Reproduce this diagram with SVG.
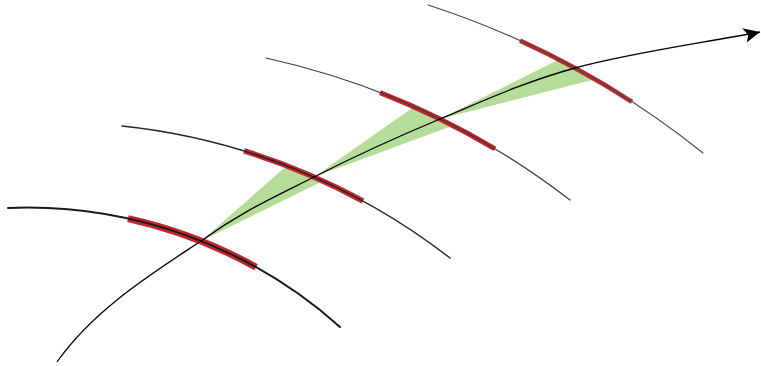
<svg xmlns="http://www.w3.org/2000/svg" width="761" height="366" viewBox="0 0 761 366">
<defs>
<style>
.wave{fill:none;stroke-linecap:round}
.red{fill:none;stroke:#c0262c;stroke-linecap:butt}
.cone{fill:#b6dc9a;stroke:none}
</style>
<marker id="arr" markerUnits="userSpaceOnUse" markerWidth="20" markerHeight="16" refX="17" refY="7" orient="auto" viewBox="0 0 20 16">
<path d="M0,0 L17,7 L2,15 L5,7.5 Z" fill="#000"/>
</marker>
</defs>
<rect width="761" height="366" fill="#fff"/>
<g id="cones">
<path class="cone" d="M201,241 L287,165.6 A645.2,645.2 0 0 1 323,181 Z"/>
<path class="cone" d="M314,177 L414,106.8 A768.6,768.6 0 0 1 453,125.6 Z"/>
<path class="cone" d="M440,119 L559,59.5 A865.9,865.9 0 0 1 595,79.2 Z"/>
</g>
<g id="highlights">
<path class="red" stroke-width="7" d="M128,218.6 A469.9,469.9 0 0 1 256,267.2"/>
<path class="red" stroke-width="5.5" d="M244,150.9 A645.2,645.2 0 0 1 363,201"/>
<path class="red" stroke-width="5" d="M380,92.6 A768.6,768.6 0 0 1 495,148.9"/>
<path class="red" stroke-width="4.5" d="M520,40.6 A865.9,865.9 0 0 1 632,101.8"/>
</g>
<g id="wavefronts">
<path id="wave1" class="wave" stroke="#1a1a1a" stroke-width="2" d="M8,208 A469.9,469.9 0 0 1 340,327"/>
<path id="wave2" class="wave" stroke="#262626" stroke-width="1.5" d="M122,126 A645.2,645.2 0 0 1 450,258"/>
<path id="wave3" class="wave" stroke="#3a3a3a" stroke-width="1.2" d="M266,58 A768.6,768.6 0 0 1 570,200"/>
<path id="wave4" class="wave" stroke="#4a4a4a" stroke-width="1.1" d="M428,5 A865.9,865.9 0 0 1 703,153"/>
</g>
<g id="connectors">
<path id="trajectory" fill="none" stroke="#000" stroke-width="1.3" marker-end="url(#arr)" d="M57,362 C95,308 156,271 201,241 C243.8,210.2 274.2,197.3 314,177 C353.8,156.7 396.5,137.2 440,119 C483.5,100.8 523.3,82.3 575,68 C626.7,53.7 691.7,44.7 760,32"/>
</g>
</svg>
